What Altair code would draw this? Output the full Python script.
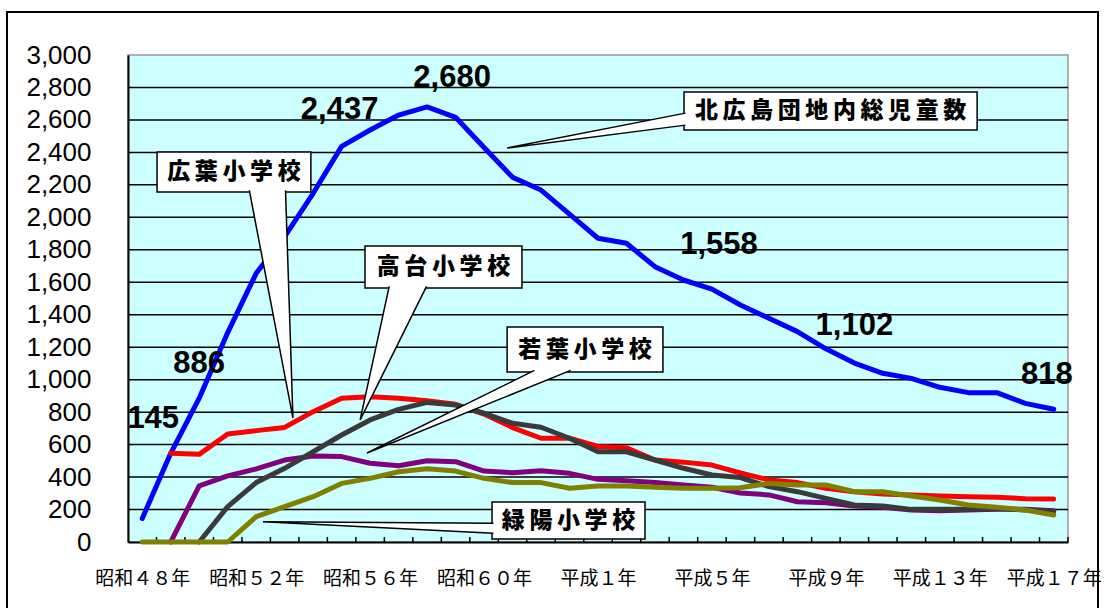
import altair as alt
import pandas as pd

# ---- data -----------------------------------------------------------------
# one entry per school year, 昭和48年 (1973) .. 平成17年 (2005)
years = list(range(33))
tick_years = [0, 4, 8, 12, 16, 20, 24, 28, 32]
tick_labels = ["昭和４８年", "昭和５２年", "昭和５６年", "昭和６０年",
               "平成１年", "平成５年", "平成９年", "平成１３年", "平成１７年"]
y_ticks = list(range(0, 3001, 200))

total = [145, 546, 886, 1290, 1655, 1881, 2148, 2437, 2538, 2630, 2680,
         2616, 2430, 2247, 2168, 2020, 1871, 1840, 1696, 1614, 1558, 1460,
         1378, 1296, 1190, 1102, 1039, 1008, 953, 920, 920, 854, 818]
hiroba = [None, 546, 540, 665, 686, 706, 803, 885, 895, 885, 870, 848, 788,
          705, 639, 639, 589, 580, 505, 492, 474, 425, 382, 366, 331, 310,
          296, 290, 283, 279, 275, 267, 265]
takadai = [None, None, 0, 218, 366, 454, 556, 659, 752, 817, 860, 844, 793,
           731, 707, 639, 556, 556, 505, 454, 413, 397, 341, 310, 269, 228,
           222, 201, 201, 201, 207, 197, 187]
wakaba = [None, 0, 346, 407, 450, 505, 530, 526, 485, 470, 501, 495, 437,
          427, 439, 423, 386, 378, 366, 351, 337, 302, 290, 248, 242, 222,
          214, 197, 193, 197, 201, 201, 193]
ryokuyo = [0, 0, 0, 0, 156, 218, 279, 361, 392, 433, 451, 437, 392, 366,
           366, 331, 345, 345, 337, 331, 331, 334, 361, 351, 351, 310, 310,
           283, 259, 228, 214, 197, 166]

series_names = ["北広島団地内総児童数", "広葉小学校", "若葉小学校", "高台小学校", "緑陽小学校"]
series_values = [total, hiroba, wakaba, takadai, ryokuyo]
series_colors = ["#0000FF", "#FF0000", "#800080", "#3A3A3A", "#808000"]

# years of the total series that carry a value label
labelled_years = [0, 2, 7, 10, 20, 25, 32]

# ---- layout -----------------------------------------------------------------
W, H = 940, 487
label_offsets = {0: (11, -99), 2: (0, -34), 7: (-2, -36), 10: (25, -29),
                 20: (7, -44), 25: (0, -37), 32: (-7, -34)}

xs = alt.Scale(domain=[-0.5, 32.5], nice=False, zero=False)
ys = alt.Scale(domain=[0, 3000], nice=False, zero=True)

label_array = "[" + ",".join(f"'{t}'" for t in tick_labels) + "]"
year_array = "[" + ",".join(str(t) for t in tick_years) + "]"
x_axis = alt.Axis(values=tick_years,
                  labelExpr=f"{label_array}[indexof({year_array}, datum.value)]",
                  ticks=False, grid=False, domainColor="black", domainWidth=2,
                  labelFont="Noto Sans CJK JP", labelFontSize=19,
                  labelColor="black", labelPadding=27, labelFlush=False,
                  labelOverlap=False, title=None)
y_axis = alt.Axis(values=y_ticks, format=",d", ticks=False, grid=False,
                  domainColor="black", domainWidth=2,
                  labelFont="Liberation Sans", labelFontSize=26,
                  labelColor="black", labelPadding=37, labelOverlap=False,
                  title=None)


def X(field="idx"):
    return alt.X(f"{field}:Q", scale=xs, axis=x_axis)


def Y(field="value"):
    return alt.Y(f"{field}:Q", scale=ys, axis=y_axis)


# ---- frame, gridlines, inward category ticks -------------------------------
frame = alt.Chart(pd.DataFrame({"a": [0]})).mark_rect(
    fill="transparent", stroke="black", strokeWidth=2
).encode(x=alt.value(-121), y=alt.value(-43), x2=alt.value(970), y2=alt.value(560))

grid = alt.Chart(pd.DataFrame({"value": y_ticks[1:-1]})).mark_rule(
    color="#000000", strokeWidth=1.5
).encode(y=Y(), x=alt.value(0), x2=alt.value(W))

ticks = alt.Chart(pd.DataFrame({"idx": [y + 0.5 for y in years]})).mark_rule(
    color="black", strokeWidth=1.5
).encode(x=X(), y=alt.value(H - 5), y2=alt.value(H))

# ---- series lines -----------------------------------------------------------
draw_order = ["北広島団地内総児童数", "広葉小学校", "若葉小学校", "高台小学校", "緑陽小学校"]
lines = []
for name in draw_order:
    k = series_names.index(name)
    rows = [{"idx": y, "value": v} for y, v in zip(years, series_values[k]) if v is not None]
    lines.append(
        alt.Chart(pd.DataFrame(rows)).mark_line(
            color=series_colors[k], strokeWidth=5, strokeCap="round", strokeJoin="round"
        ).encode(x=X(), y=Y())
    )

# ---- value labels on the total series ---------------------------------------
value_labels = []
for y in labelled_years:
    dx, dy = label_offsets[y]
    value_labels.append(
        alt.Chart(pd.DataFrame({"idx": [y], "value": [total[y]]})).mark_text(
            font="Liberation Sans", fontWeight="bold", fontSize=31, color="black",
            align="center", baseline="middle", dx=dx, dy=dy
        ).encode(x=X(), y=Y(), text=alt.Text("value:Q", format=",d"))
    )

# ---- callouts naming each series --------------------------------------------
# box corners and pointer wedges in (year index, children) units
callout_names = ["広葉小学校", "高台小学校", "若葉小学校", "緑陽小学校", "北広島団地内総児童数"]
box_x = [(0.52, 5.92), (7.82, 13.33), (12.81, 18.28), (12.28, 17.65), (19.02, 29.31)]
box_y = [(2156, 2402), (1565, 1823), (1047, 1324), (18, 246), (2538, 2772)]
wedges = [
    [(3.76, 2166), (5.29, 764), (5.03, 2166)],
    [(8.67, 1575), (7.65, 752), (9.98, 1575)],
    [(13.77, 1057), (7.89, 548), (15.04, 1057)],
    [(12.33, 115), (4.24, 125), (12.33, 54)],
    [(19.07, 2642), (12.81, 2427), (19.07, 2568)],
]

box_df = pd.DataFrame({
    "name": callout_names,
    "idx": [b[0] for b in box_x], "idx2": [b[1] for b in box_x],
    "value": [b[0] for b in box_y], "value2": [b[1] for b in box_y],
    "tx": [(b[0] + b[1]) / 2 for b in box_x],
    "ty": [(b[0] + b[1]) / 2 for b in box_y],
    "text": ["\u2009".join(n) for n in callout_names],
})
wedge_rows = []
for name, pts in zip(callout_names, wedges):
    for k, (xi, yv) in enumerate(pts):
        wedge_rows.append({"name": name, "k": k, "idx": xi, "value": yv})
wedge_df = pd.DataFrame(wedge_rows)

boxes = alt.Chart(box_df).mark_rect(
    fill="white", stroke="black", strokeWidth=1.5
).encode(x=X(), x2="idx2:Q", y=Y(), y2="value2:Q")

pointers = alt.Chart(wedge_df).mark_line(
    fill="white", stroke="black", strokeWidth=1.5, strokeJoin="miter"
).encode(x=X(), y=Y(), order="k:O", detail="name:N")

box_text = alt.Chart(box_df).mark_text(
    font="Noto Sans CJK JP", fontWeight=900, fontSize=23, color="black",
    align="center", baseline="middle"
).encode(x=X("tx"), y=Y("ty"), text="text:N")

chart = alt.layer(
    frame, grid, ticks, *lines, *value_labels, boxes, pointers, box_text
).properties(
    width=W, height=H,
    autosize=alt.AutoSizeParams(type="none"),
    padding={"left": 128, "top": 55, "right": 38, "bottom": 66},
    background="white",
).configure_view(
    fill="#CCFFFF", stroke="#999999", strokeWidth=1.5
)

chart.save("out.html", embed_options={"renderer": "svg", "actions": False})
